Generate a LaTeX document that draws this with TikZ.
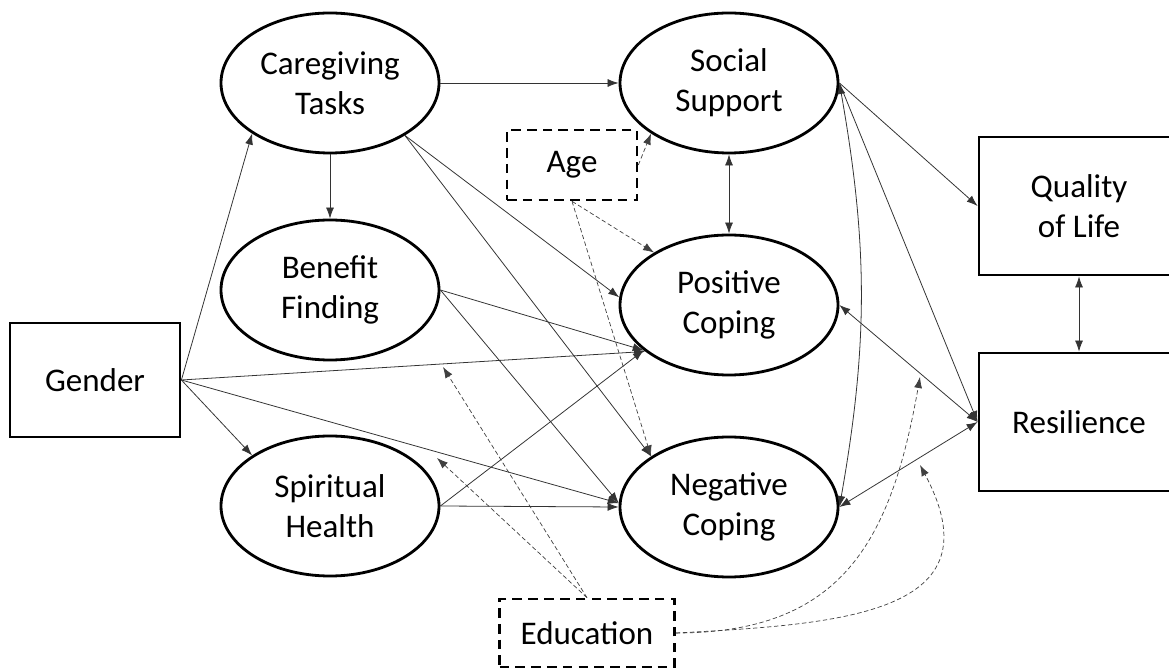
\documentclass[tikz,border=0pt]{standalone}
\usepackage{fontspec}
\setmainfont{Carlito}
\usetikzlibrary{shapes.geometric,arrows.meta}
\tikzset{
    latent/.style={draw,ellipse,line width=1.6pt,minimum width=4.36cm,minimum height=2.8cm,inner sep=0pt,align=center},
    obsbox/.style={draw,rectangle,line width=1.6pt,align=center},
    ctrlbox/.style={draw,rectangle,line width=1.5pt,dash pattern=on 5.5pt off 3.5pt,align=center},
    effect/.style={line width=0.45pt,draw=black!80,-{Latex[length=2.2mm,width=1.6mm]}},
    covar/.style={line width=0.45pt,draw=black!80,{Latex[length=2.2mm,width=1.6mm]}-{Latex[length=2.2mm,width=1.6mm]}},
    moder/.style={line width=0.4pt,draw=black!75,dash pattern=on 2.5pt off 1.5pt,-{Latex[length=2.2mm,width=1.6mm]}}
}
\begin{document}
        \begin{tikzpicture}[scale=1,font=\fontsize{18.8}{22.7}\selectfont]
            \useasboundingbox (0,0) rectangle (23.38,13.42);
            \node[latent] (care) at (6.6,11.76) {Caregiving\\Tasks};
            \node[latent] (benefit) at (6.6,7.62) {Benefit\\Finding};
            \node[latent] (spirit) at (6.6,3.3) {Spiritual\\Health};
            \node[latent] (social) at (14.58,11.76) {Social\\Support};
            \node[latent] (poscope) at (14.58,7.32) {Positive\\Coping};
            \node[latent] (negcope) at (14.58,3.28) {Negative\\Coping};
            \node[obsbox,minimum width=3.4cm,minimum height=2.28cm] (gender) at (1.9,5.82) {Gender};
            \node[obsbox,minimum width=4cm,minimum height=2.76cm] (qol) at (21.58,9.3) {Quality\\of Life};
            \node[obsbox,minimum width=4cm,minimum height=2.76cm] (resil) at (21.58,4.98) {Resilience};
            \node[ctrlbox,minimum width=2.6cm,minimum height=1.4cm] (age) at (11.44,10.12) {Age};
            \node[ctrlbox,minimum width=3.5cm,minimum height=1.36cm] (edu) at (11.74,0.76) {Education};
            % points vises sur les chemins moderes
            \coordinate (m1) at (8.86,6.08);
            \coordinate (m2) at (8.74,4.26);
            \coordinate (m3) at (18.4,5.88);
            \coordinate (m4) at (18.4,4.12);
            \draw[effect] (gender.east) -- (care.213);
            \draw[effect] (gender.east) -- (spirit.147);
            \draw[effect] (gender.east) -- (poscope.209);
            \draw[effect] (gender.east) -- (negcope.178);
            \draw[effect] (care.east) -- (social.west);
            \draw[effect] (care.south) -- (benefit.north);
            \draw[effect] (care.325) -- (poscope.176);
            \draw[effect] (care.325) -- (negcope.147);
            \draw[effect] (benefit.east) -- (poscope.208);
            \draw[effect] (benefit.east) -- (negcope.178);
            \draw[effect] (spirit.east) -- (poscope.208);
            \draw[effect] (spirit.east) -- (negcope.west);
            \draw[covar] (social.south) -- (poscope.north);
            \draw[effect] (social.east) -- (qol.west);
            \draw[effect] (social.east) -- (resil.west);
            \draw[covar] (social.east) to[bend left=10] (negcope.east);
            \draw[covar] (poscope.east) -- (resil.west);
            \draw[covar] (negcope.east) -- (resil.west);
            \draw[covar] (qol.south) -- (resil.north);
            \draw[moder] (age.east) -- (social.213);
            \draw[moder] (age.south) -- (poscope.145);
            \draw[moder] (age.south) -- (negcope.147);
            \draw[moder] (edu.north) -- (m1);
            \draw[moder] (edu.north) -- (m2);
            \draw[moder] (edu.east) to[out=0,in=-100,looseness=1.2] (m3);
            \draw[moder] (edu.east) to[out=3,in=-62,looseness=1.45] (m4);%boucle vers la droite
        \end{tikzpicture}
\end{document}
